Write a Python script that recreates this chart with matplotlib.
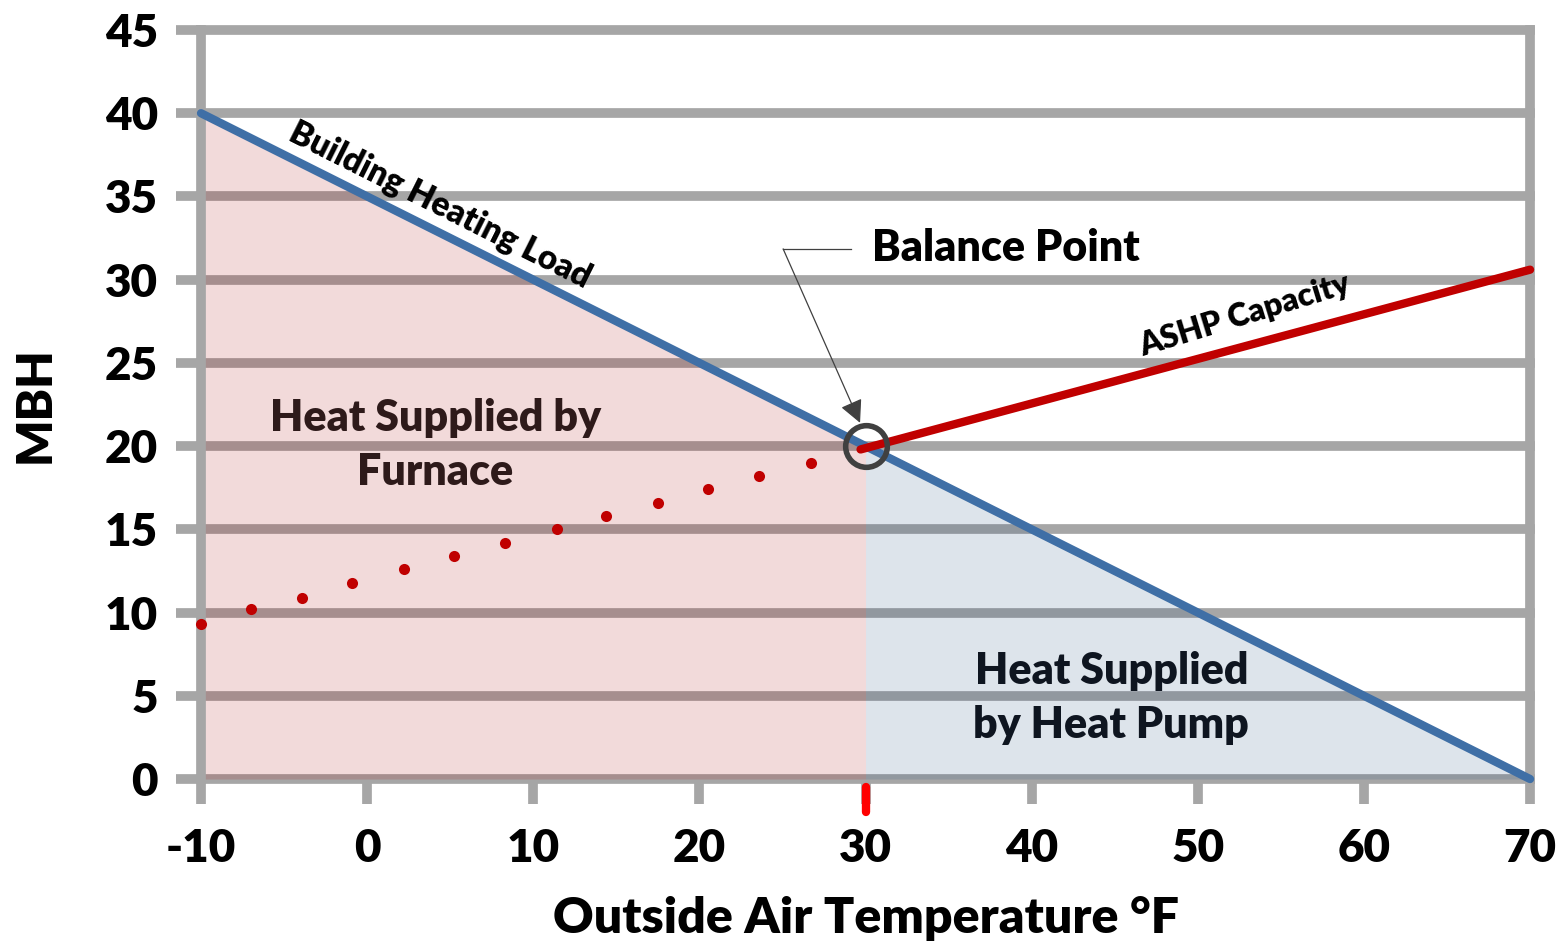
import matplotlib
matplotlib.use("Agg")
import matplotlib.pyplot as plt
import numpy as np

# ---- data ----
load_temp = [-10, 70]
load_mbh = [40, 0]
ashp_temp = [29.7, 70]
ashp_mbh = [19.8, 30.6]
ext_temp = [-10, -7.0, -3.9, -0.9, 2.2, 5.2, 8.3, 11.4, 14.4, 17.5, 20.5, 23.6, 26.7]
ext_mbh = [9.3, 10.2, 10.9, 11.8, 12.6, 13.4, 14.2, 15.0, 15.8, 16.6, 17.4, 18.2, 19.0]
balance_temp = 30
balance_mbh = 20
x_ticks = [-10, 0, 10, 20, 30, 40, 50, 60, 70]
y_ticks = [0, 5, 10, 15, 20, 25, 30, 35, 40, 45]

FONT = ["Lato", "DejaVu Sans"]
W = "heavy"
plt.rcParams["font.family"] = FONT
plt.rcParams["font.weight"] = W

GRID = "#a6a6a6"
fig = plt.figure(figsize=(15.68, 9.46), dpi=100)
ax = fig.add_axes([0.1282, 0.1765, 0.9758 - 0.1282, 0.9683 - 0.1765])
ax.set_xlim(-10, 70)
ax.set_ylim(0, 45)
ax.set_xticks(x_ticks)
ax.set_yticks(y_ticks)
ax.set_xticklabels([str(v) for v in x_ticks], fontsize=33, fontweight=W)
ax.set_yticklabels([str(v) for v in y_ticks], fontsize=33, fontweight=W)
ax.tick_params(axis="both", direction="out", length=18, width=7, color=GRID)
ax.tick_params(axis="x", pad=17)
ax.tick_params(axis="y", pad=13)
ax.grid(axis="y", color=GRID, lw=7, zorder=0.5)
ax.set_axisbelow(True)
for gl in ax.get_ygridlines():
    gl.set_clip_on(False)
for s in ["top", "bottom"]:
    ax.spines[s].set_visible(False)
for s in ["left", "right"]:
    ax.spines[s].set_color(GRID)
    ax.spines[s].set_linewidth(7)

# fills
xl = np.array(load_temp, dtype=float)
yl = np.array(load_mbh, dtype=float)
xf = np.array([load_temp[0], balance_temp])
ax.fill_between(xf, np.interp(xf, xl, yl), 0, color=(0.67, 0.04, 0.04), alpha=0.15, lw=0, zorder=1)
xp = np.array([balance_temp, load_temp[1]])
ax.fill_between(xp, np.interp(xp, xl, yl), 0, color=(0.12, 0.29, 0.49), alpha=0.15, lw=0, zorder=1)

# lines
ax.plot(load_temp, load_mbh, color="#3f6fa6", lw=6, solid_capstyle="round", zorder=3, clip_on=False)
ax.plot(ashp_temp, ashp_mbh, color="#c00000", lw=6, solid_capstyle="round", zorder=3, clip_on=False)
ax.plot(ext_temp, ext_mbh, "o", color="#c00000", ms=8, mew=0, zorder=3, clip_on=False)
ax.plot([balance_temp], [balance_mbh], "o", mfc="none", mec="#404040", ms=30, mew=4, zorder=4)

# red tick marker at balance temperature
ax.plot([balance_temp, balance_temp], [-0.5, -2.0], color="#ff0000", lw=6,
        solid_capstyle="round", clip_on=False, zorder=5)

# annotation
ax.plot([25.04, 29.1], [31.85, 31.85], color="#404040", lw=0.9, zorder=4)
ax.annotate("", xy=(29.67, 21.4), xytext=(25.04, 31.85),
            arrowprops=dict(arrowstyle="-|>,head_length=1.4,head_width=0.7", color="#404040",
                            lw=0.9, shrinkA=0, shrinkB=0), zorder=4)
ax.text(30.4, 31.9, "Balance Point", fontsize=31, fontweight=W, ha="left", va="center", zorder=5)

ax.text(4.39, 34.5, "Building Heating Load", fontsize=24, fontweight=W,
        rotation=-26.6, rotation_mode="anchor", ha="center", va="center", zorder=5)
ax.text(52.85, 27.9, "ASHP Capacity", fontsize=23, fontweight=W,
        rotation=17, rotation_mode="anchor", ha="center", va="center", zorder=5)
ax.text(4.09, 20.07, "Heat Supplied by\nFurnace", fontsize=31, fontweight=W,
        ha="center", va="center", color="#2e1a1a", linespacing=1.42, zorder=5)
ax.text(44.8, 4.87, "Heat Supplied\nby Heat Pump", fontsize=31, fontweight=W,
        ha="center", va="center", color="#0e1520", linespacing=1.42, zorder=5)

ax.set_xlabel("Outside Air Temperature °F", fontsize=36, fontweight=W, labelpad=20)
ax.set_ylabel("MBH", fontsize=35, fontweight=W, labelpad=34)

fig.savefig("out.png", dpi=100)
